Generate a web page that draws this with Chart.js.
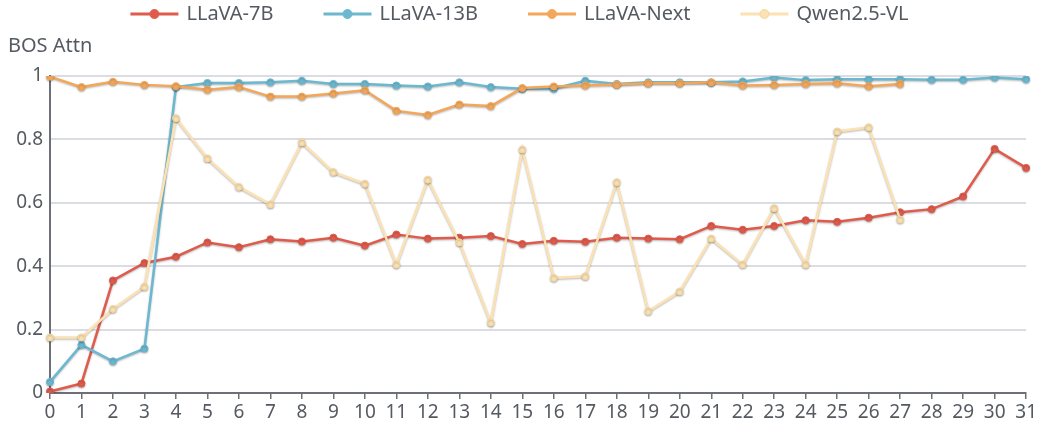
<!DOCTYPE html>
<html>
<head>
<meta charset="utf-8">
<script src="https://cdn.jsdelivr.net/npm/chart.js@4"></script>
<style>
  html, body { margin: 0; padding: 0; background: #fff; }
  #wrap { width: 1039px; height: 423px; }
</style>
</head>
<body>
<div id="wrap"><canvas id="chart"></canvas></div>
<script>
// Layer index on the x axis
const layers = ["0","1","2","3","4","5","6","7","8","9","10","11","12","13","14","15",
                "16","17","18","19","20","21","22","23","24","25","26","27","28","29","30","31"];

// BOS attention per model
const llava7b = [0.005, 0.03, 0.355, 0.41, 0.43, 0.475, 0.46, 0.485, 0.478, 0.49, 0.465, 0.50,
                 0.487, 0.49, 0.495, 0.47, 0.48, 0.477, 0.49, 0.487, 0.485, 0.527, 0.515, 0.527,
                 0.545, 0.54, 0.553, 0.57, 0.58, 0.62, 0.77, 0.71];
const llava13b = [0.035, 0.152, 0.10, 0.14, 0.965, 0.978, 0.978, 0.98, 0.985, 0.975, 0.975, 0.97,
                  0.967, 0.98, 0.965, 0.96, 0.96, 0.985, 0.975, 0.98, 0.98, 0.98, 0.983, 0.995,
                  0.987, 0.99, 0.99, 0.99, 0.988, 0.988, 0.995, 0.99];
const llavaNext = [0.998, 0.965, 0.982, 0.972, 0.968, 0.957, 0.965, 0.935, 0.935, 0.945, 0.955, 0.89,
                   0.877, 0.91, 0.905, 0.962, 0.967, 0.97, 0.973, 0.977, 0.977, 0.98, 0.97, 0.972,
                   0.975, 0.977, 0.968, 0.975];
const qwen25vl = [0.175, 0.175, 0.265, 0.335, 0.867, 0.74, 0.65, 0.595, 0.79, 0.697, 0.66, 0.405,
                  0.673, 0.475, 0.222, 0.768, 0.363, 0.368, 0.665, 0.258, 0.32, 0.487, 0.405, 0.583,
                  0.405, 0.825, 0.838, 0.547];

const yTicks = [0, 0.2, 0.4, 0.6, 0.8, 1];

const seriesNames = ["LLaVA-7B", "LLaVA-13B", "LLaVA-Next", "Qwen2.5-VL"];
const seriesColors = ["#e05b4c", "#6cb8d0", "#f3a75a", "#fce2b2"];
const pointBorders = ["#e05b4c", "#6cb8d0", "#f3a75a", "#f3d7a4"];

const FONT = "'Noto Sans', 'Open Sans', sans-serif";
const TEXT = "#555a61";

function makeDataset(i, values) {
    return {
        label: seriesNames[i],
        data: values,
        borderColor: seriesColors[i],
        backgroundColor: seriesColors[i],
        pointBackgroundColor: seriesColors[i],
        pointBorderColor: pointBorders[i],
        pointBorderWidth: 1,
        pointRadius: 3.5,
        pointHoverRadius: 4,
        borderWidth: 2.5,
        tension: 0,
        fill: false,
        order: 4 - i
    };
}

// soft shadow under every series
const lineShadow = {
    id: "lineShadow",
    beforeDatasetDraw(chart) {
        const ctx = chart.ctx;
        ctx.save();
        ctx.shadowColor = "rgba(0,0,0,0.28)";
        ctx.shadowBlur = 2;
        ctx.shadowOffsetY = 1;
    },
    afterDatasetDraw(chart) {
        chart.ctx.restore();
    }
};

// y axis name + a legend with line-and-dot icons
const headerText = {
    id: "headerText",
    afterDraw(chart) {
        const ctx = chart.ctx;
        ctx.save();
        ctx.font = "20px " + FONT;
        ctx.fillStyle = TEXT;
        ctx.textBaseline = "middle";
        ctx.textAlign = "left";
        ctx.fillText("BOS Attn", 8, chart.chartArea.top - 30);

        const iconW = 48, gapText = 8, gapItem = 50, y = 14;
        const widths = seriesNames.map(n => ctx.measureText(n).width);
        let total = widths.reduce((a, b) => a + b, 0) + seriesNames.length * (iconW + gapText) + (seriesNames.length - 1) * gapItem;
        let x = (chart.width - total) / 2;
        seriesNames.forEach((name, i) => {
            ctx.strokeStyle = seriesColors[i];
            ctx.lineWidth = 3;
            ctx.beginPath(); ctx.moveTo(x, y); ctx.lineTo(x + iconW, y); ctx.stroke();
            ctx.fillStyle = seriesColors[i];
            ctx.strokeStyle = pointBorders[i];
            ctx.lineWidth = 1;
            ctx.beginPath(); ctx.arc(x + iconW / 2, y, 4.5, 0, Math.PI * 2); ctx.fill(); ctx.stroke();
            ctx.fillStyle = TEXT;
            ctx.fillText(name, x + iconW + gapText, y);
            x += iconW + gapText + widths[i] + gapItem;
        });
        ctx.restore();
    }
};

new Chart(document.getElementById("chart"), {
    type: "line",
    data: {
        labels: layers,
        datasets: [
            makeDataset(0, llava7b),
            makeDataset(1, llava13b),
            makeDataset(2, llavaNext),
            makeDataset(3, qwen25vl)
        ]
    },
    options: {
        responsive: true,
        maintainAspectRatio: false,
        animation: false,
        layout: { padding: { left: 0, right: 9, top: 76, bottom: 0 } },
        plugins: {
            legend: { display: false },
            tooltip: { enabled: false }
        },
        scales: {
            x: {
                offset: false,
                grid: {
                    display: true,
                    drawOnChartArea: false,
                    drawTicks: true,
                    tickLength: 6,
                    color: "#6e7079",
                    lineWidth: 1.5
                },
                border: { display: true, color: "#6e7079", width: 2 },
                ticks: {
                    color: TEXT,
                    font: { family: FONT, size: 19 },
                    padding: 2,
                    autoSkip: false,
                    maxRotation: 0
                },
                afterFit(scale) { scale.height = 30; }
            },
            y: {
                min: 0,
                max: 1,
                afterBuildTicks(scale) {
                    scale.ticks = yTicks.map(v => ({ value: v }));
                },
                grid: {
                    color: "#dcdde2",
                    lineWidth: 2,
                    drawTicks: false
                },
                border: { display: true, color: "#6e7079", width: 2 },
                ticks: {
                    color: TEXT,
                    font: { family: FONT, size: 19 },
                    padding: 7,
                    callback: v => String(Number(v.toFixed(1)))
                },
                afterFit(scale) { scale.width = 50; }
            }
        }
    },
    plugins: [lineShadow, headerText]
});
</script>
</body>
</html>
